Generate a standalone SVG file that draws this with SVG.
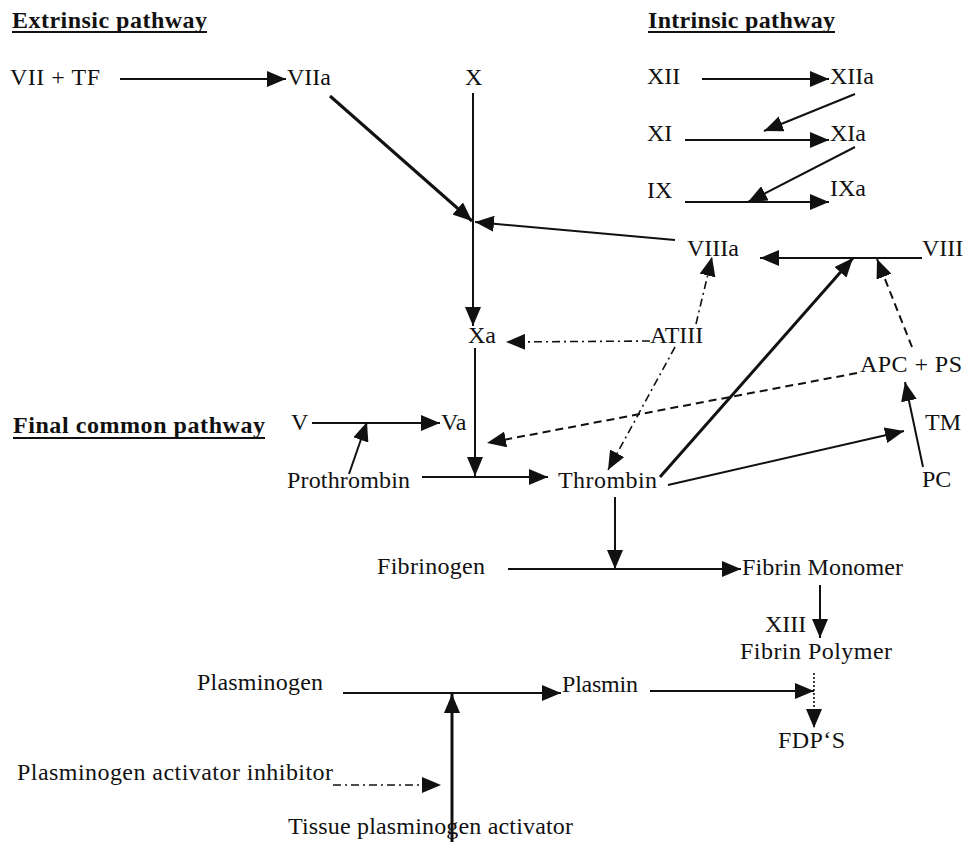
<svg xmlns="http://www.w3.org/2000/svg" width="966" height="842" viewBox="0 0 966 842">
<style>
text{font-family:"Liberation Serif","Times New Roman",serif;font-size:24px;fill:#111}
.h{font-weight:bold}
.c{stroke:#111;stroke-width:2;fill:none;marker-end:url(#ah)}
.w{stroke-width:3}
.d{stroke-dasharray:8 5}
.dd{stroke-dasharray:8 4 2 4;stroke-width:1.6}
.f{stroke-dasharray:2 2;stroke-width:1.6}
.u{stroke:#111;stroke-width:2}
</style>
<defs>
<marker id="ah" markerUnits="userSpaceOnUse" markerWidth="19" markerHeight="16" refX="19" refY="8" orient="auto">
<path d="M0,0 L19,8 L0,16 z" fill="#111"/>
</marker>
</defs>
<rect width="966" height="842" fill="#fff"/>
<g id="connectors">
<path class="c" d="M120,79 L286,79"/>
<path class="c" d="M473,93 L473,326"/>
<path class="c w" d="M330,96 L472,221"/>
<path class="c" d="M675,240 L475,222"/>
<path class="c" d="M702,79 L829,79"/>
<path class="c" d="M855,94 L764,131"/>
<path class="c" d="M685,140 L829,140"/>
<path class="c" d="M855,147 L748,202"/>
<path class="c" d="M685,202 L829,202"/>
<path class="c" d="M922,258 L760,258"/>
<path class="c w" d="M660,477 L853,258"/>
<path class="c d" d="M912,347 L877,259"/>
<path class="c dd" d="M696,324 L712,257"/>
<path class="c dd" d="M675,347 L608,470"/>
<path class="c dd" d="M650,341 L506,342"/>
<path class="c" d="M475,348 L475,476"/>
<path class="c" d="M422,477 L548,477"/>
<path class="c" d="M312,423 L440,423"/>
<path class="c" d="M349,474 L367,422"/>
<path class="c d" d="M857,373 L487,443"/>
<path class="c" d="M923,467 L905,382"/>
<path class="c" d="M668,485 L904,431"/>
<path class="c" d="M615,497 L615,569"/>
<path class="c" d="M508,569 L741,569"/>
<path class="c" d="M820,585 L820,638"/>
<path class="c f" d="M814,673 L814,728"/>
<path class="c" d="M650,691 L814,691"/>
<path class="c" d="M343,693 L561,693"/>
<path class="c w" d="M452,842 L452,694"/>
<path class="c dd" d="M333,785 L441,785"/>
</g>
<g id="extrinsic-title"><text class="h" x="12" y="28" textLength="195">Extrinsic pathway</text><line class="u" x1="12" y1="32" x2="207" y2="32"/></g>
<g id="intrinsic-title"><text class="h" x="648" y="28" textLength="187">Intrinsic pathway</text><line class="u" x1="648" y1="32" x2="835" y2="32"/></g>
<g id="final-title"><text class="h" x="13" y="433" textLength="252">Final common pathway</text><line class="u" x1="13" y1="438" x2="265" y2="438"/></g>
<g id="VII-TF"><text x="10" y="85" textLength="90">VII + TF</text></g>
<g id="VIIa"><text x="287" y="85">VIIa</text></g>
<g id="X"><text x="465" y="85">X</text></g>
<g id="XII"><text x="647" y="84">XII</text></g>
<g id="XIIa"><text x="830" y="84">XIIa</text></g>
<g id="XI"><text x="647" y="141">XI</text></g>
<g id="XIa"><text x="830" y="141">XIa</text></g>
<g id="IX"><text x="647" y="198">IX</text></g>
<g id="IXa"><text x="830" y="196">IXa</text></g>
<g id="VIIIa"><text x="687" y="256">VIIIa</text></g>
<g id="VIII"><text x="922" y="256">VIII</text></g>
<g id="Xa"><text x="468" y="343">Xa</text></g>
<g id="ATIII"><text x="650" y="343">ATIII</text></g>
<g id="APC-PS"><text x="860" y="372" textLength="102">APC + PS</text></g>
<g id="V"><text x="291" y="430">V</text></g>
<g id="Va"><text x="441" y="430">Va</text></g>
<g id="TM"><text x="925" y="430">TM</text></g>
<g id="Prothrombin"><text x="287" y="488" textLength="123">Prothrombin</text></g>
<g id="Thrombin"><text x="558" y="488" textLength="99">Thrombin</text></g>
<g id="PC"><text x="922" y="487">PC</text></g>
<g id="Fibrinogen"><text x="377" y="574" textLength="108">Fibrinogen</text></g>
<g id="Fibrin-Monomer"><text x="742" y="575" textLength="161">Fibrin Monomer</text></g>
<g id="XIII"><text x="765" y="632">XIII</text></g>
<g id="Fibrin-Polymer"><text x="740" y="659" textLength="152">Fibrin Polymer</text></g>
<g id="Plasminogen"><text x="197" y="690" textLength="126">Plasminogen</text></g>
<g id="Plasmin"><text x="562" y="692" textLength="76">Plasmin</text></g>
<g id="FDPS"><text x="778" y="748" textLength="67">FDP‘S</text></g>
<g id="PAI"><text x="17" y="780" textLength="316">Plasminogen activator inhibitor</text></g>
<g id="tPA"><text x="288" y="834" textLength="285">Tissue plasminogen activator</text></g>
</svg>
